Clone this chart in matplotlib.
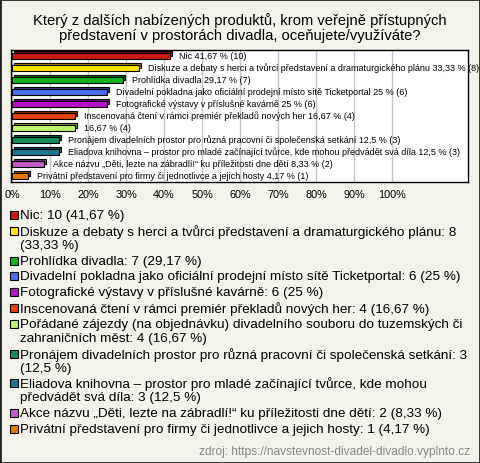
import matplotlib
matplotlib.use('Agg')
import matplotlib.pyplot as plt
from matplotlib.patches import Rectangle
import numpy as np

plt.rcParams['font.family'] = ['Liberation Sans', 'DejaVu Sans']

title = 'Který z dalších nabízených produktů, krom veřejně přístupných\npředstavení v prostorách divadla, oceňujete/využíváte?'
names = ['Nic',
         'Diskuze a debaty s herci a tvůrci představení a dramaturgického plánu',
         'Prohlídka divadla',
         'Divadelní pokladna jako oficiální prodejní místo sítě Ticketportal',
         'Fotografické výstavy v příslušné kavárně',
         'Inscenovaná čtení v rámci premiér překladů nových her',
         'Pořádané zájezdy (na objednávku) divadelního souboru do tuzemských či zahraničních měst',
         'Pronájem divadelních prostor pro různá pracovní či společenská setkání',
         'Eliadova knihovna – prostor pro mladé začínající tvůrce, kde mohou předvádět svá díla',
         'Akce názvu „Děti, lezte na zábradlí!“ ku příležitosti dne dětí',
         'Privátní představení pro firmy či jednotlivce a jejich hosty']
counts = [10, 8, 7, 6, 6, 4, 4, 3, 3, 2, 1]
pcts = [41.67, 33.33, 29.17, 25, 25, 16.67, 16.67, 12.5, 12.5, 8.33, 4.17]
show_name_on_bar = [True, True, True, True, True, True, False, True, True, True, True]
colors = ['#c81a10', '#ffe600', '#12b41c', '#4a6cf0', '#b414c8', '#e8420e',
          '#bdf56c', '#148c58', '#1a7890', '#c05ec4', '#e87800']
ticks = list(range(0, 101, 10))
source = 'zdroj: https://navstevnost-divadel-divadlo.vyplnto.cz'

W, H = 480, 464
def fx(px):
    return px / W
def fy(py):
    return 1 - py / H

def cz(p):
    return f'{p:g}'.replace('.', ',')

fig = plt.figure(figsize=(4.8, 4.64), dpi=100, facecolor='#f3f3eb')
fig.patches.append(Rectangle((0, 0), 1, 1, transform=fig.transFigure,
                             fill=False, edgecolor='#222222', lw=2))

fig.text(0.5, fy(28), title, ha='center', va='center', fontsize=10.6,
         linespacing=1.05)

ax = fig.add_axes([fx(11), fy(183), fx(468 - 11), 132 / H])
ax.set_facecolor('white')
y = np.arange(len(pcts))
dark = [tuple(np.array(matplotlib.colors.to_rgb(c)) * 0.6) for c in colors]
ax.barh(y - 0.17, pcts, left=0.5, height=0.42, color=dark,
        edgecolor='black', lw=0.8, zorder=2)
ax.barh(y, pcts, height=0.42, color=colors, edgecolor='black', lw=0.8, zorder=3)
for i, p in enumerate(pcts):
    txt = f'{cz(p)} % ({counts[i]})'
    if show_name_on_bar[i]:
        txt = names[i] + ' ' + txt
    ax.annotate(txt, (p + 0.5, i - 0.08), xytext=(7, 0),
                textcoords='offset pixels', va='center', fontsize=6.5,
                annotation_clip=False, zorder=4)
ax.set_xlim(-0.26, 120)
ax.set_ylim(len(pcts) - 0.5, -0.5)
ax.set_xticks(ticks)
ax.set_xticklabels([f'{t}%' for t in ticks])
ax.set_yticks([])
ax.tick_params(axis='x', length=0, pad=5, labelsize=7.8)
ax.xaxis.grid(True, color='#c4c4c4', lw=1)
ax.set_axisbelow(True)
for s in ax.spines.values():
    s.set_linewidth(1)
    s.set_color('black')

# legend with pixel-based wrapping
renderer = fig.canvas.get_renderer()
def text_w(s, size):
    t = fig.text(0, 0, s, fontsize=size)
    w = t.get_window_extent(renderer).width
    t.remove()
    return w

def wrap(s, maxw, size):
    lines, cur = [], ''
    for word in s.split(' '):
        cand = word if not cur else cur + ' ' + word
        if text_w(cand, size) > maxw and cur:
            lines.append(cur)
            cur = word
        else:
            cur = cand
    lines.append(cur)
    return lines

lsize = 9.7
ly = 216
for i, n in enumerate(names):
    label = f'{n}: {counts[i]} ({cz(pcts[i])} %)'
    lines = wrap(label, 468 - 20, lsize)
    fig.patches.append(Rectangle((fx(10), fy(ly + 4)), 8 / W, 8 / H,
                                 transform=fig.transFigure,
                                 facecolor=colors[i], edgecolor='black', lw=0.8))
    for k, line in enumerate(lines):
        fig.text(fx(20), fy(ly + 14 * k), line, fontsize=lsize, va='center')
    ly += 14 * (len(lines) - 1) + 15.8

fig.text(fx(470), fy(452), source, ha='right', va='center', fontsize=8.6,
         color='#888888')

fig.savefig('out.png', dpi=100, facecolor=fig.get_facecolor())
